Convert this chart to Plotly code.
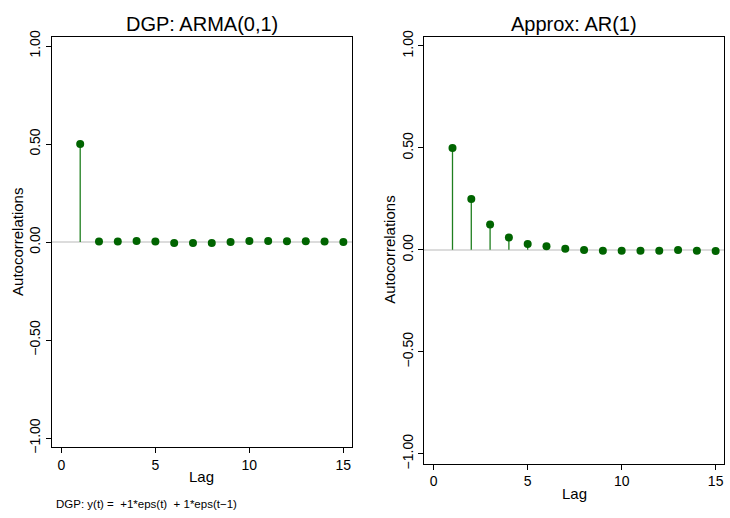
import plotly.graph_objects as go

lags = list(range(1, 16))
acf_dgp = [0.50, 0.003, 0.003, 0.006, 0.003, -0.004, -0.005, -0.005, 0.000,
           0.006, 0.006, 0.004, 0.004, 0.003, 0.000]
acf_ar1 = [0.50, 0.25, 0.124, 0.061, 0.029, 0.018, 0.005, -0.001, -0.004,
           -0.004, -0.004, -0.004, -0.001, -0.004, -0.006]
ytick_vals = [-1.0, -0.5, 0.0, 0.5, 1.0]
xtick_vals = [0, 5, 10, 15]
titles = ["DGP: ARMA(0,1)", "Approx: AR(1)"]
note = "DGP: y(t) =\u00a0 +1*eps(t)\u00a0 + 1*eps(t\u22121)"

W, H = 730, 518
FONT = "Liberation Sans, Arial, sans-serif"
GREEN_M = "#006400"
GREEN_L = "#1f7f1f"


def px(x):
    return x / W


def py(y):
    return 1 - y / H


fig = go.Figure()

panels = [
    dict(vals=acf_dgp, xa="x", ya="y", xd=[px(52), px(352)], yd=[py(451.7), py(31)],
         yr=[-1.047, 1.045]),
    dict(vals=acf_ar1, xa="x2", ya="y2", xd=[px(424.3), px(724.3)], yd=[py(468.3), py(31)],
         yr=[-1.048, 1.043]),
]

for p in panels:
    sx, sy = [], []
    for l, v in zip(lags, p["vals"]):
        sx += [l, l, None]
        sy += [0, v, None]
    fig.add_trace(go.Scatter(x=sx, y=sy, mode="lines", xaxis=p["xa"], yaxis=p["ya"],
                             line=dict(color=GREEN_L, width=1.3), hoverinfo="skip",
                             showlegend=False))
    fig.add_trace(go.Scatter(x=lags, y=p["vals"], mode="markers", xaxis=p["xa"], yaxis=p["ya"],
                             marker=dict(color=GREEN_M, size=8, line=dict(width=0)),
                             showlegend=False))

axis_common = dict(showline=True, linecolor="black", linewidth=1, mirror=True,
                   showgrid=False, ticks="outside", ticklen=5, tickcolor="black",
                   tickfont=dict(family=FONT, size=14, color="black"))

for i, p in enumerate(panels):
    sfx = "" if i == 0 else "2"
    fig.layout["xaxis" + sfx] = dict(domain=p["xd"], range=[-0.5, 15.46], tickvals=xtick_vals,
                                    zeroline=False, anchor="y" + sfx, **axis_common)
    fig.layout["yaxis" + sfx] = dict(domain=p["yd"], range=p["yr"], tickvals=ytick_vals,
                                    tickformat=".2f", tickangle=-90, zeroline=True,
                                    zerolinecolor="#dcdcdc", zerolinewidth=1.5,
                                    anchor="x" + sfx, **axis_common)

annotations = [
    dict(text=titles[0], x=px(202), y=py(17), xref="paper", yref="paper", showarrow=False,
         font=dict(family=FONT, size=20, color="black"), xanchor="center", yanchor="middle"),
    dict(text=titles[1], x=px(574), y=py(17), xref="paper", yref="paper", showarrow=False,
         font=dict(family=FONT, size=20, color="black"), xanchor="center", yanchor="middle"),
    dict(text="Autocorrelations", x=px(18), y=py(241), xref="paper", yref="paper",
         showarrow=False, textangle=-90, font=dict(family=FONT, size=15, color="black"),
         xanchor="center", yanchor="middle"),
    dict(text="Autocorrelations", x=px(390), y=py(249), xref="paper", yref="paper",
         showarrow=False, textangle=-90, font=dict(family=FONT, size=15, color="black"),
         xanchor="center", yanchor="middle"),
    dict(text="Lag", x=px(202), y=py(482), xref="paper", yref="paper", showarrow=False,
         font=dict(family=FONT, size=15, color="black"), xanchor="center", yanchor="middle"),
    dict(text="Lag", x=px(574), y=py(499), xref="paper", yref="paper", showarrow=False,
         font=dict(family=FONT, size=15, color="black"), xanchor="center", yanchor="middle"),
    dict(text=note, x=px(54), y=py(510), xref="paper", yref="paper", showarrow=False,
         font=dict(family=FONT, size=11.5, color="black"), xanchor="left", yanchor="middle"),
]

fig.update_layout(width=W, height=H, margin=dict(l=0, r=0, t=0, b=0),
                  paper_bgcolor="white", plot_bgcolor="white",
                  annotations=annotations, showlegend=False)

fig.write_html("out.html", config={"displayModeBar": False},
               post_script="document.body.style.margin='0';document.body.style.overflow='hidden';")
